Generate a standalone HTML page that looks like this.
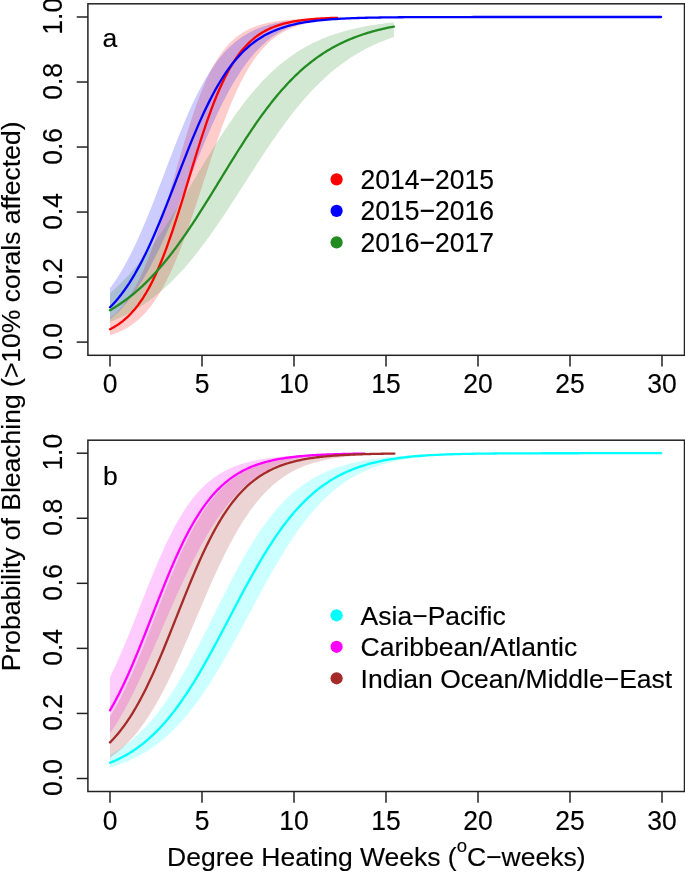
<!DOCTYPE html><html><head><meta charset="utf-8"><style>html,body{margin:0;padding:0;background:#fff}svg{display:block;will-change:transform}text{font-family:"Liberation Sans",sans-serif;fill:#000;stroke:#000;stroke-width:0.15}</style></head><body>
<svg width="685" height="872" viewBox="0 0 685 872">
<rect width="685" height="872" fill="#fff"/>
<path d="M110.00,318.12 L111.14,317.21 L112.27,316.26 L113.41,315.28 L114.54,314.25 L115.68,313.18 L116.82,312.07 L117.95,310.92 L119.09,309.71 L120.23,308.47 L121.36,307.17 L122.50,305.82 L123.63,304.42 L124.77,302.96 L125.91,301.45 L127.04,299.89 L128.18,298.26 L129.32,296.58 L130.45,294.83 L131.59,293.02 L132.72,291.15 L133.86,289.21 L135.00,287.20 L136.13,285.13 L137.27,282.98 L138.41,280.77 L139.54,278.48 L140.68,276.12 L141.81,273.69 L142.95,271.19 L144.09,268.61 L145.22,265.95 L146.36,263.22 L147.49,260.42 L148.63,257.54 L149.77,254.59 L150.90,251.57 L152.04,248.47 L153.18,245.31 L154.31,242.07 L155.45,238.77 L156.58,235.40 L157.72,231.97 L158.86,228.47 L159.99,224.92 L161.13,221.31 L162.27,217.65 L163.40,213.94 L164.54,210.19 L165.67,206.39 L166.81,202.56 L167.95,198.69 L169.08,194.79 L170.22,190.87 L171.35,186.93 L172.49,182.98 L173.63,179.02 L174.76,175.05 L175.90,171.08 L177.04,167.11 L178.17,163.16 L179.31,159.22 L180.44,155.30 L181.58,151.40 L182.72,147.54 L183.85,143.71 L184.99,139.92 L186.13,136.16 L187.26,132.46 L188.40,128.81 L189.53,125.21 L190.67,121.67 L191.81,118.18 L192.94,114.76 L194.08,111.41 L195.21,108.13 L196.35,104.91 L197.49,101.77 L198.62,98.70 L199.76,95.70 L200.90,92.78 L202.03,89.94 L203.17,87.18 L204.30,84.49 L205.44,81.88 L206.58,79.34 L207.71,76.89 L208.85,74.51 L209.99,72.20 L211.12,69.98 L212.26,67.82 L213.39,65.74 L214.53,63.74 L215.67,61.80 L216.80,59.93 L217.94,58.13 L219.08,56.40 L220.21,54.73 L221.35,53.13 L222.48,51.59 L223.62,50.10 L224.76,48.68 L225.89,47.31 L227.03,46.00 L228.16,44.74 L229.30,43.54 L230.44,42.38 L231.57,41.27 L232.71,40.21 L233.85,39.19 L234.98,38.22 L236.12,37.29 L237.25,36.40 L238.39,35.54 L239.53,34.73 L240.66,33.95 L241.80,33.20 L242.94,32.49 L244.07,31.81 L245.21,31.16 L246.34,30.53 L247.48,29.94 L248.62,29.37 L249.75,28.83 L250.89,28.31 L252.03,27.82 L253.16,27.34 L254.30,26.89 L255.43,26.46 L256.57,26.05 L257.71,25.66 L258.84,25.29 L259.98,24.93 L261.11,24.59 L262.25,24.26 L263.39,23.95 L264.52,23.65 L265.66,23.37 L266.80,23.10 L267.93,22.84 L269.07,22.60 L270.20,22.36 L271.34,22.14 L272.48,21.92 L273.61,21.72 L274.75,21.52 L275.89,21.34 L277.02,21.16 L278.16,20.99 L279.29,20.83 L280.43,20.67 L281.57,20.53 L282.70,20.38 L283.84,20.25 L284.97,20.12 L286.11,20.00 L287.25,19.88 L288.38,19.77 L289.52,19.66 L290.66,19.56 L291.79,19.46 L292.93,19.36 L294.06,19.27 L295.20,19.18 L296.34,19.09 L297.47,19.01 L298.61,18.93 L299.75,18.86 L300.88,18.78 L302.02,18.71 L303.15,18.65 L304.29,18.58 L305.43,18.52 L306.56,18.46 L307.70,18.40 L308.84,18.35 L309.97,18.30 L311.11,18.24 L312.24,18.20 L313.38,18.15 L314.52,18.10 L315.65,18.06 L316.79,18.02 L317.92,17.98 L319.06,17.94 L320.20,17.90 L321.33,17.87 L322.47,17.83 L323.61,17.80 L324.74,17.77 L325.88,17.74 L327.01,17.71 L328.15,17.68 L329.29,17.66 L330.42,17.63 L331.56,17.60 L332.70,17.58 L333.83,17.56 L334.97,17.54 L336.10,17.52 L337.24,17.49 L337.24,18.93 L336.10,19.02 L334.97,19.11 L333.83,19.21 L332.70,19.31 L331.56,19.41 L330.42,19.52 L329.29,19.63 L328.15,19.75 L327.01,19.87 L325.88,20.00 L324.74,20.13 L323.61,20.27 L322.47,20.42 L321.33,20.57 L320.20,20.73 L319.06,20.90 L317.92,21.07 L316.79,21.25 L315.65,21.44 L314.52,21.64 L313.38,21.84 L312.24,22.06 L311.11,22.28 L309.97,22.52 L308.84,22.76 L307.70,23.02 L306.56,23.28 L305.43,23.56 L304.29,23.85 L303.15,24.15 L302.02,24.47 L300.88,24.79 L299.75,25.14 L298.61,25.50 L297.47,25.87 L296.34,26.26 L295.20,26.66 L294.06,27.08 L292.93,27.52 L291.79,27.98 L290.66,28.46 L289.52,28.96 L288.38,29.48 L287.25,30.02 L286.11,30.58 L284.97,31.17 L283.84,31.78 L282.70,32.41 L281.57,33.07 L280.43,33.76 L279.29,34.47 L278.16,35.22 L277.02,35.99 L275.89,36.80 L274.75,37.63 L273.61,38.50 L272.48,39.41 L271.34,40.34 L270.20,41.32 L269.07,42.33 L267.93,43.38 L266.80,44.47 L265.66,45.60 L264.52,46.77 L263.39,47.99 L262.25,49.24 L261.11,50.55 L259.98,51.90 L258.84,53.30 L257.71,54.74 L256.57,56.24 L255.43,57.78 L254.30,59.37 L253.16,61.02 L252.03,62.71 L250.89,64.46 L249.75,66.25 L248.62,68.11 L247.48,70.01 L246.34,71.97 L245.21,73.98 L244.07,76.05 L242.94,78.18 L241.80,80.36 L240.66,82.60 L239.53,84.90 L238.39,87.25 L237.25,89.66 L236.12,92.12 L234.98,94.64 L233.85,97.22 L232.71,99.85 L231.57,102.53 L230.44,105.27 L229.30,108.06 L228.16,110.91 L227.03,113.81 L225.89,116.75 L224.76,119.74 L223.62,122.78 L222.48,125.87 L221.35,129.00 L220.21,132.17 L219.08,135.38 L217.94,138.63 L216.80,141.91 L215.67,145.23 L214.53,148.58 L213.39,151.95 L212.26,155.35 L211.12,158.77 L209.99,162.22 L208.85,165.68 L207.71,169.15 L206.58,172.63 L205.44,176.13 L204.30,179.63 L203.17,183.12 L202.03,186.62 L200.90,190.12 L199.76,193.60 L198.62,197.08 L197.49,200.54 L196.35,203.99 L195.21,207.42 L194.08,210.82 L192.94,214.20 L191.81,217.55 L190.67,220.87 L189.53,224.16 L188.40,227.42 L187.26,230.63 L186.13,233.81 L184.99,236.94 L183.85,240.03 L182.72,243.07 L181.58,246.07 L180.44,249.02 L179.31,251.91 L178.17,254.76 L177.04,257.55 L175.90,260.29 L174.76,262.97 L173.63,265.59 L172.49,268.16 L171.35,270.68 L170.22,273.13 L169.08,275.53 L167.95,277.87 L166.81,280.15 L165.67,282.37 L164.54,284.54 L163.40,286.64 L162.27,288.69 L161.13,290.68 L159.99,292.62 L158.86,294.50 L157.72,296.32 L156.58,298.09 L155.45,299.81 L154.31,301.47 L153.18,303.08 L152.04,304.64 L150.90,306.14 L149.77,307.60 L148.63,309.01 L147.49,310.37 L146.36,311.68 L145.22,312.95 L144.09,314.17 L142.95,315.35 L141.81,316.49 L140.68,317.59 L139.54,318.64 L138.41,319.66 L137.27,320.64 L136.13,321.58 L135.00,322.48 L133.86,323.35 L132.72,324.19 L131.59,324.99 L130.45,325.76 L129.32,326.50 L128.18,327.22 L127.04,327.90 L125.91,328.55 L124.77,329.18 L123.63,329.78 L122.50,330.36 L121.36,330.91 L120.23,331.44 L119.09,331.94 L117.95,332.43 L116.82,332.89 L115.68,333.34 L114.54,333.76 L113.41,334.17 L112.27,334.55 L111.14,334.92 L110.00,335.28Z" fill="#FF0000" fill-opacity="0.2" stroke="none"/>
<path d="M110.00,288.30 L112.76,284.50 L115.51,280.48 L118.27,276.22 L121.02,271.73 L123.78,266.99 L126.53,262.02 L129.29,256.80 L132.04,251.34 L134.80,245.65 L137.55,239.73 L140.31,233.59 L143.06,227.25 L145.82,220.71 L148.58,214.01 L151.33,207.14 L154.09,200.15 L156.84,193.05 L159.60,185.86 L162.35,178.63 L165.11,171.36 L167.86,164.11 L170.62,156.88 L173.37,149.72 L176.13,142.65 L178.88,135.70 L181.64,128.90 L184.40,122.26 L187.15,115.81 L189.91,109.57 L192.66,103.55 L195.42,97.76 L198.17,92.22 L200.93,86.94 L203.68,81.91 L206.44,77.15 L209.19,72.65 L211.95,68.40 L214.71,64.41 L217.46,60.67 L220.22,57.17 L222.97,53.90 L225.73,50.86 L228.48,48.04 L231.24,45.42 L233.99,42.99 L236.75,40.75 L239.50,38.68 L242.26,36.78 L245.01,35.03 L247.77,33.42 L250.53,31.94 L253.28,30.59 L256.04,29.35 L258.79,28.22 L261.55,27.19 L264.30,26.24 L267.06,25.38 L269.81,24.60 L272.57,23.88 L275.32,23.23 L278.08,22.64 L280.83,22.11 L283.59,21.62 L286.35,21.18 L289.10,20.79 L291.86,20.43 L294.61,20.10 L297.37,19.80 L300.12,19.54 L302.88,19.29 L305.63,19.07 L308.39,18.88 L311.14,18.70 L313.90,18.53 L316.65,18.39 L319.41,18.25 L322.17,18.13 L324.92,18.03 L327.68,17.93 L330.43,17.84 L333.19,17.76 L335.94,17.68 L338.70,17.62 L341.45,17.56 L344.21,17.51 L346.96,17.46 L349.72,17.41 L352.48,17.37 L355.23,17.34 L357.99,17.31 L360.74,17.28 L363.50,17.25 L366.25,17.23 L369.01,17.20 L371.76,17.18 L374.52,17.17 L377.27,17.15 L380.03,17.14 L382.78,17.12 L385.54,17.11 L388.30,17.10 L391.05,17.09 L393.81,17.08 L396.56,17.07 L399.32,17.07 L402.07,17.06 L404.83,17.05 L407.58,17.05 L410.34,17.04 L413.09,17.04 L415.85,17.04 L418.60,17.03 L421.36,17.03 L424.12,17.03 L426.87,17.02 L429.63,17.02 L432.38,17.02 L435.14,17.02 L437.89,17.02 L440.65,17.01 L443.40,17.01 L446.16,17.01 L448.91,17.01 L451.67,17.01 L454.43,17.01 L457.18,17.01 L459.94,17.01 L462.69,17.01 L465.45,17.01 L468.20,17.01 L470.96,17.00 L473.71,17.00 L476.47,17.00 L479.22,17.00 L481.98,17.00 L484.73,17.00 L487.49,17.00 L490.25,17.00 L493.00,17.00 L495.76,17.00 L498.51,17.00 L501.27,17.00 L504.02,17.00 L506.78,17.00 L509.53,17.00 L512.29,17.00 L515.04,17.00 L517.80,17.00 L520.55,17.00 L523.31,17.00 L526.07,17.00 L528.82,17.00 L531.58,17.00 L534.33,17.00 L537.09,17.00 L539.84,17.00 L542.60,17.00 L545.35,17.00 L548.11,17.00 L550.86,17.00 L553.62,17.00 L556.37,17.00 L559.13,17.00 L561.89,17.00 L564.64,17.00 L567.40,17.00 L570.15,17.00 L572.91,17.00 L575.66,17.00 L578.42,17.00 L581.17,17.00 L583.93,17.00 L586.68,17.00 L589.44,17.00 L592.19,17.00 L594.95,17.00 L597.71,17.00 L600.46,17.00 L603.22,17.00 L605.97,17.00 L608.73,17.00 L611.48,17.00 L614.24,17.00 L616.99,17.00 L619.75,17.00 L622.50,17.00 L625.26,17.00 L628.02,17.00 L630.77,17.00 L633.53,17.00 L636.28,17.00 L639.04,17.00 L641.79,17.00 L644.55,17.00 L647.30,17.00 L650.06,17.00 L652.81,17.00 L655.57,17.00 L658.32,17.00 L661.08,17.00 L661.08,17.00 L658.32,17.00 L655.57,17.00 L652.81,17.00 L650.06,17.00 L647.30,17.00 L644.55,17.00 L641.79,17.00 L639.04,17.00 L636.28,17.00 L633.53,17.00 L630.77,17.00 L628.02,17.00 L625.26,17.00 L622.50,17.00 L619.75,17.00 L616.99,17.00 L614.24,17.00 L611.48,17.00 L608.73,17.00 L605.97,17.00 L603.22,17.00 L600.46,17.00 L597.71,17.00 L594.95,17.00 L592.19,17.00 L589.44,17.00 L586.68,17.00 L583.93,17.00 L581.17,17.00 L578.42,17.00 L575.66,17.00 L572.91,17.00 L570.15,17.00 L567.40,17.00 L564.64,17.00 L561.89,17.00 L559.13,17.00 L556.37,17.00 L553.62,17.00 L550.86,17.00 L548.11,17.00 L545.35,17.00 L542.60,17.00 L539.84,17.00 L537.09,17.00 L534.33,17.00 L531.58,17.00 L528.82,17.00 L526.07,17.00 L523.31,17.00 L520.55,17.00 L517.80,17.00 L515.04,17.00 L512.29,17.00 L509.53,17.00 L506.78,17.00 L504.02,17.00 L501.27,17.00 L498.51,17.00 L495.76,17.00 L493.00,17.00 L490.25,17.00 L487.49,17.00 L484.73,17.00 L481.98,17.00 L479.22,17.00 L476.47,17.00 L473.71,17.01 L470.96,17.01 L468.20,17.01 L465.45,17.01 L462.69,17.01 L459.94,17.01 L457.18,17.01 L454.43,17.01 L451.67,17.01 L448.91,17.01 L446.16,17.02 L443.40,17.02 L440.65,17.02 L437.89,17.02 L435.14,17.03 L432.38,17.03 L429.63,17.03 L426.87,17.04 L424.12,17.04 L421.36,17.05 L418.60,17.05 L415.85,17.06 L413.09,17.06 L410.34,17.07 L407.58,17.08 L404.83,17.09 L402.07,17.10 L399.32,17.11 L396.56,17.13 L393.81,17.14 L391.05,17.16 L388.30,17.18 L385.54,17.20 L382.78,17.22 L380.03,17.25 L377.27,17.28 L374.52,17.31 L371.76,17.35 L369.01,17.39 L366.25,17.44 L363.50,17.50 L360.74,17.56 L357.99,17.62 L355.23,17.70 L352.48,17.78 L349.72,17.88 L346.96,17.98 L344.21,18.10 L341.45,18.23 L338.70,18.38 L335.94,18.55 L333.19,18.74 L330.43,18.95 L327.68,19.18 L324.92,19.44 L322.17,19.74 L319.41,20.06 L316.65,20.43 L313.90,20.84 L311.14,21.30 L308.39,21.81 L305.63,22.39 L302.88,23.03 L300.12,23.74 L297.37,24.54 L294.61,25.43 L291.86,26.42 L289.10,27.53 L286.35,28.75 L283.59,30.10 L280.83,31.57 L278.08,33.17 L275.32,34.90 L272.57,36.79 L269.81,38.82 L267.06,41.02 L264.30,43.39 L261.55,45.93 L258.79,48.65 L256.04,51.56 L253.28,54.66 L250.53,57.96 L247.77,61.47 L245.01,65.18 L242.26,69.09 L239.50,73.22 L236.75,77.56 L233.99,82.10 L231.24,86.86 L228.48,91.81 L225.73,96.97 L222.97,102.32 L220.22,107.86 L217.46,113.57 L214.71,119.45 L211.95,125.48 L209.19,131.66 L206.44,137.97 L203.68,144.39 L200.93,150.91 L198.17,157.51 L195.42,164.18 L192.66,170.88 L189.91,177.62 L187.15,184.36 L184.40,191.09 L181.64,197.78 L178.88,204.43 L176.13,211.01 L173.37,217.50 L170.62,223.90 L167.86,230.17 L165.11,236.31 L162.35,242.30 L159.60,248.13 L156.84,253.79 L154.09,259.26 L151.33,264.55 L148.58,269.64 L145.82,274.53 L143.06,279.22 L140.31,283.69 L137.55,287.95 L134.80,292.00 L132.04,295.84 L129.29,299.47 L126.53,302.89 L123.78,306.11 L121.02,309.13 L118.27,311.96 L115.51,314.60 L112.76,317.06 L110.00,319.35Z" fill="#0000FF" fill-opacity="0.2" stroke="none"/>
<path d="M110.00,293.14 L111.42,291.92 L112.84,290.67 L114.26,289.39 L115.68,288.09 L117.10,286.77 L118.52,285.41 L119.94,284.04 L121.36,282.63 L122.78,281.20 L124.20,279.75 L125.62,278.26 L127.03,276.75 L128.45,275.22 L129.87,273.66 L131.29,272.07 L132.71,270.45 L134.13,268.81 L135.55,267.14 L136.97,265.45 L138.39,263.72 L139.81,261.98 L141.23,260.20 L142.65,258.40 L144.07,256.58 L145.49,254.73 L146.91,252.85 L148.33,250.95 L149.75,249.03 L151.17,247.08 L152.59,245.10 L154.01,243.11 L155.43,241.09 L156.85,239.05 L158.27,236.98 L159.68,234.90 L161.10,232.79 L162.52,230.67 L163.94,228.52 L165.36,226.36 L166.78,224.17 L168.20,221.97 L169.62,219.76 L171.04,217.52 L172.46,215.27 L173.88,213.01 L175.30,210.74 L176.72,208.45 L178.14,206.15 L179.56,203.83 L180.98,201.51 L182.40,199.18 L183.82,196.84 L185.24,194.49 L186.66,192.14 L188.08,189.78 L189.50,187.42 L190.91,185.05 L192.33,182.68 L193.75,180.31 L195.17,177.94 L196.59,175.57 L198.01,173.21 L199.43,170.84 L200.85,168.48 L202.27,166.12 L203.69,163.77 L205.11,161.43 L206.53,159.09 L207.95,156.76 L209.37,154.44 L210.79,152.14 L212.21,149.84 L213.63,147.55 L215.05,145.28 L216.47,143.02 L217.89,140.78 L219.31,138.55 L220.73,136.34 L222.15,134.15 L223.56,131.97 L224.98,129.82 L226.40,127.68 L227.82,125.56 L229.24,123.46 L230.66,121.38 L232.08,119.33 L233.50,117.29 L234.92,115.28 L236.34,113.29 L237.76,111.33 L239.18,109.39 L240.60,107.47 L242.02,105.58 L243.44,103.71 L244.86,101.87 L246.28,100.06 L247.70,98.26 L249.12,96.50 L250.54,94.76 L251.96,93.05 L253.38,91.36 L254.80,89.70 L256.21,88.07 L257.63,86.47 L259.05,84.89 L260.47,83.33 L261.89,81.81 L263.31,80.31 L264.73,78.83 L266.15,77.39 L267.57,75.96 L268.99,74.57 L270.41,73.20 L271.83,71.86 L273.25,70.54 L274.67,69.25 L276.09,67.98 L277.51,66.74 L278.93,65.53 L280.35,64.34 L281.77,63.17 L283.19,62.02 L284.61,60.91 L286.03,59.81 L287.45,58.74 L288.86,57.69 L290.28,56.66 L291.70,55.66 L293.12,54.67 L294.54,53.71 L295.96,52.77 L297.38,51.86 L298.80,50.96 L300.22,50.08 L301.64,49.23 L303.06,48.39 L304.48,47.57 L305.90,46.77 L307.32,45.99 L308.74,45.23 L310.16,44.49 L311.58,43.77 L313.00,43.06 L314.42,42.37 L315.84,41.69 L317.26,41.04 L318.68,40.40 L320.09,39.77 L321.51,39.16 L322.93,38.57 L324.35,37.99 L325.77,37.42 L327.19,36.87 L328.61,36.33 L330.03,35.81 L331.45,35.30 L332.87,34.80 L334.29,34.32 L335.71,33.85 L337.13,33.39 L338.55,32.94 L339.97,32.50 L341.39,32.08 L342.81,31.66 L344.23,31.26 L345.65,30.87 L347.07,30.49 L348.49,30.11 L349.91,29.75 L351.33,29.40 L352.74,29.06 L354.16,28.72 L355.58,28.40 L357.00,28.08 L358.42,27.77 L359.84,27.47 L361.26,27.18 L362.68,26.90 L364.10,26.62 L365.52,26.35 L366.94,26.09 L368.36,25.84 L369.78,25.59 L371.20,25.35 L372.62,25.12 L374.04,24.89 L375.46,24.67 L376.88,24.45 L378.30,24.24 L379.72,24.04 L381.14,23.84 L382.56,23.65 L383.98,23.46 L385.39,23.28 L386.81,23.10 L388.23,22.93 L389.65,22.76 L391.07,22.60 L392.49,22.44 L393.91,22.29 L393.91,37.01 L392.49,37.49 L391.07,37.99 L389.65,38.49 L388.23,39.01 L386.81,39.54 L385.39,40.08 L383.98,40.63 L382.56,41.20 L381.14,41.78 L379.72,42.37 L378.30,42.97 L376.88,43.59 L375.46,44.22 L374.04,44.87 L372.62,45.53 L371.20,46.21 L369.78,46.90 L368.36,47.60 L366.94,48.32 L365.52,49.06 L364.10,49.81 L362.68,50.58 L361.26,51.37 L359.84,52.17 L358.42,52.99 L357.00,53.82 L355.58,54.68 L354.16,55.55 L352.74,56.44 L351.33,57.35 L349.91,58.27 L348.49,59.22 L347.07,60.18 L345.65,61.16 L344.23,62.17 L342.81,63.19 L341.39,64.23 L339.97,65.29 L338.55,66.38 L337.13,67.48 L335.71,68.60 L334.29,69.75 L332.87,70.91 L331.45,72.10 L330.03,73.31 L328.61,74.54 L327.19,75.80 L325.77,77.07 L324.35,78.37 L322.93,79.69 L321.51,81.03 L320.09,82.39 L318.68,83.78 L317.26,85.19 L315.84,86.62 L314.42,88.08 L313.00,89.56 L311.58,91.06 L310.16,92.58 L308.74,94.13 L307.32,95.70 L305.90,97.29 L304.48,98.90 L303.06,100.54 L301.64,102.20 L300.22,103.88 L298.80,105.58 L297.38,107.31 L295.96,109.06 L294.54,110.82 L293.12,112.61 L291.70,114.42 L290.28,116.26 L288.86,118.11 L287.45,119.98 L286.03,121.87 L284.61,123.78 L283.19,125.71 L281.77,127.66 L280.35,129.63 L278.93,131.61 L277.51,133.61 L276.09,135.63 L274.67,137.66 L273.25,139.71 L271.83,141.78 L270.41,143.86 L268.99,145.95 L267.57,148.05 L266.15,150.17 L264.73,152.30 L263.31,154.44 L261.89,156.59 L260.47,158.75 L259.05,160.92 L257.63,163.10 L256.21,165.29 L254.80,167.48 L253.38,169.67 L251.96,171.88 L250.54,174.08 L249.12,176.30 L247.70,178.51 L246.28,180.72 L244.86,182.94 L243.44,185.16 L242.02,187.37 L240.60,189.59 L239.18,191.80 L237.76,194.01 L236.34,196.21 L234.92,198.41 L233.50,200.61 L232.08,202.79 L230.66,204.97 L229.24,207.15 L227.82,209.31 L226.40,211.47 L224.98,213.61 L223.56,215.75 L222.15,217.87 L220.73,219.98 L219.31,222.07 L217.89,224.16 L216.47,226.23 L215.05,228.28 L213.63,230.32 L212.21,232.34 L210.79,234.34 L209.37,236.33 L207.95,238.30 L206.53,240.25 L205.11,242.18 L203.69,244.10 L202.27,245.99 L200.85,247.86 L199.43,249.72 L198.01,251.55 L196.59,253.36 L195.17,255.15 L193.75,256.91 L192.33,258.66 L190.91,260.38 L189.50,262.08 L188.08,263.75 L186.66,265.41 L185.24,267.04 L183.82,268.64 L182.40,270.23 L180.98,271.79 L179.56,273.32 L178.14,274.83 L176.72,276.32 L175.30,277.79 L173.88,279.23 L172.46,280.64 L171.04,282.04 L169.62,283.41 L168.20,284.75 L166.78,286.07 L165.36,287.37 L163.94,288.65 L162.52,289.90 L161.10,291.13 L159.68,292.34 L158.27,293.52 L156.85,294.68 L155.43,295.82 L154.01,296.94 L152.59,298.03 L151.17,299.10 L149.75,300.15 L148.33,301.18 L146.91,302.19 L145.49,303.18 L144.07,304.15 L142.65,305.10 L141.23,306.02 L139.81,306.93 L138.39,307.82 L136.97,308.68 L135.55,309.53 L134.13,310.36 L132.71,311.18 L131.29,311.97 L129.87,312.75 L128.45,313.50 L127.03,314.25 L125.62,314.97 L124.20,315.68 L122.78,316.37 L121.36,317.04 L119.94,317.70 L118.52,318.34 L117.10,318.97 L115.68,319.59 L114.26,320.18 L112.84,320.77 L111.42,321.34 L110.00,321.89Z" fill="#228B22" fill-opacity="0.2" stroke="none"/>
<path d="M110.00,329.24 L111.14,328.66 L112.27,328.06 L113.41,327.42 L114.54,326.76 L115.68,326.07 L116.82,325.36 L117.95,324.61 L119.09,323.83 L120.23,323.02 L121.36,322.17 L122.50,321.29 L123.63,320.37 L124.77,319.42 L125.91,318.43 L127.04,317.39 L128.18,316.32 L129.32,315.20 L130.45,314.04 L131.59,312.84 L132.72,311.59 L133.86,310.29 L135.00,308.94 L136.13,307.54 L137.27,306.09 L138.41,304.59 L139.54,303.03 L140.68,301.41 L141.81,299.74 L142.95,298.02 L144.09,296.23 L145.22,294.38 L146.36,292.47 L147.49,290.50 L148.63,288.47 L149.77,286.37 L150.90,284.21 L152.04,281.98 L153.18,279.69 L154.31,277.33 L155.45,274.90 L156.58,272.41 L157.72,269.85 L158.86,267.22 L159.99,264.53 L161.13,261.78 L162.27,258.95 L163.40,256.07 L164.54,253.12 L165.67,250.11 L166.81,247.03 L167.95,243.90 L169.08,240.71 L170.22,237.46 L171.35,234.17 L172.49,230.81 L173.63,227.41 L174.76,223.97 L175.90,220.48 L177.04,216.95 L178.17,213.38 L179.31,209.77 L180.44,206.14 L181.58,202.48 L182.72,198.79 L183.85,195.09 L184.99,191.36 L186.13,187.63 L187.26,183.88 L188.40,180.14 L189.53,176.39 L190.67,172.64 L191.81,168.91 L192.94,165.18 L194.08,161.47 L195.21,157.77 L196.35,154.10 L197.49,150.46 L198.62,146.85 L199.76,143.27 L200.90,139.72 L202.03,136.22 L203.17,132.76 L204.30,129.35 L205.44,125.98 L206.58,122.66 L207.71,119.40 L208.85,116.19 L209.99,113.04 L211.12,109.95 L212.26,106.92 L213.39,103.95 L214.53,101.04 L215.67,98.20 L216.80,95.42 L217.94,92.71 L219.08,90.07 L220.21,87.49 L221.35,84.97 L222.48,82.53 L223.62,80.15 L224.76,77.83 L225.89,75.58 L227.03,73.40 L228.16,71.28 L229.30,69.23 L230.44,67.24 L231.57,65.31 L232.71,63.44 L233.85,61.64 L234.98,59.89 L236.12,58.20 L237.25,56.57 L238.39,55.00 L239.53,53.47 L240.66,52.01 L241.80,50.59 L242.94,49.23 L244.07,47.91 L245.21,46.65 L246.34,45.43 L247.48,44.25 L248.62,43.12 L249.75,42.04 L250.89,40.99 L252.03,39.99 L253.16,39.02 L254.30,38.09 L255.43,37.20 L256.57,36.34 L257.71,35.52 L258.84,34.73 L259.98,33.97 L261.11,33.25 L262.25,32.55 L263.39,31.88 L264.52,31.24 L265.66,30.62 L266.80,30.04 L267.93,29.47 L269.07,28.93 L270.20,28.41 L271.34,27.91 L272.48,27.44 L273.61,26.98 L274.75,26.54 L275.89,26.13 L277.02,25.73 L278.16,25.34 L279.29,24.98 L280.43,24.62 L281.57,24.29 L282.70,23.97 L283.84,23.66 L284.97,23.36 L286.11,23.08 L287.25,22.81 L288.38,22.56 L289.52,22.31 L290.66,22.07 L291.79,21.85 L292.93,21.63 L294.06,21.43 L295.20,21.23 L296.34,21.04 L297.47,20.86 L298.61,20.69 L299.75,20.53 L300.88,20.37 L302.02,20.22 L303.15,20.07 L304.29,19.94 L305.43,19.81 L306.56,19.68 L307.70,19.56 L308.84,19.45 L309.97,19.34 L311.11,19.23 L312.24,19.13 L313.38,19.04 L314.52,18.94 L315.65,18.86 L316.79,18.77 L317.92,18.69 L319.06,18.62 L320.20,18.55 L321.33,18.48 L322.47,18.41 L323.61,18.35 L324.74,18.29 L325.88,18.23 L327.01,18.17 L328.15,18.12 L329.29,18.07 L330.42,18.02 L331.56,17.98 L332.70,17.93 L333.83,17.89 L334.97,17.85 L336.10,17.81 L337.24,17.78" fill="none" stroke="#FF0000" stroke-width="2.3" stroke-linecap="round" stroke-linejoin="round"/>
<path d="M110.00,307.26 L112.76,304.43 L115.51,301.40 L118.27,298.17 L121.02,294.72 L123.78,291.05 L126.53,287.15 L129.29,283.02 L132.04,278.65 L134.80,274.04 L137.55,269.19 L140.31,264.10 L143.06,258.77 L145.82,253.21 L148.58,247.42 L151.33,241.41 L154.09,235.20 L156.84,228.80 L159.60,222.23 L162.35,215.51 L165.11,208.65 L167.86,201.68 L170.62,194.63 L173.37,187.53 L176.13,180.39 L178.88,173.25 L181.64,166.13 L184.40,159.07 L187.15,152.08 L189.91,145.19 L192.66,138.43 L195.42,131.83 L198.17,125.38 L200.93,119.13 L203.68,113.07 L206.44,107.23 L209.19,101.62 L211.95,96.23 L214.71,91.08 L217.46,86.18 L220.22,81.51 L222.97,77.08 L225.73,72.90 L228.48,68.95 L231.24,65.22 L233.99,61.72 L236.75,58.44 L239.50,55.36 L242.26,52.49 L245.01,49.80 L247.77,47.30 L250.53,44.97 L253.28,42.80 L256.04,40.79 L258.79,38.92 L261.55,37.19 L264.30,35.59 L267.06,34.11 L269.81,32.74 L272.57,31.47 L275.32,30.31 L278.08,29.23 L280.83,28.23 L283.59,27.32 L286.35,26.48 L289.10,25.70 L291.86,24.99 L294.61,24.33 L297.37,23.72 L300.12,23.17 L302.88,22.66 L305.63,22.19 L308.39,21.76 L311.14,21.37 L313.90,21.00 L316.65,20.67 L319.41,20.36 L322.17,20.08 L324.92,19.83 L327.68,19.59 L330.43,19.37 L333.19,19.18 L335.94,18.99 L338.70,18.83 L341.45,18.67 L344.21,18.53 L346.96,18.41 L349.72,18.29 L352.48,18.18 L355.23,18.08 L357.99,17.99 L360.74,17.91 L363.50,17.83 L366.25,17.76 L369.01,17.70 L371.76,17.64 L374.52,17.58 L377.27,17.54 L380.03,17.49 L382.78,17.45 L385.54,17.41 L388.30,17.38 L391.05,17.35 L393.81,17.32 L396.56,17.29 L399.32,17.27 L402.07,17.24 L404.83,17.22 L407.58,17.20 L410.34,17.19 L413.09,17.17 L415.85,17.16 L418.60,17.14 L421.36,17.13 L424.12,17.12 L426.87,17.11 L429.63,17.10 L432.38,17.09 L435.14,17.08 L437.89,17.08 L440.65,17.07 L443.40,17.07 L446.16,17.06 L448.91,17.05 L451.67,17.05 L454.43,17.05 L457.18,17.04 L459.94,17.04 L462.69,17.04 L465.45,17.03 L468.20,17.03 L470.96,17.03 L473.71,17.02 L476.47,17.02 L479.22,17.02 L481.98,17.02 L484.73,17.02 L487.49,17.02 L490.25,17.01 L493.00,17.01 L495.76,17.01 L498.51,17.01 L501.27,17.01 L504.02,17.01 L506.78,17.01 L509.53,17.01 L512.29,17.01 L515.04,17.01 L517.80,17.01 L520.55,17.01 L523.31,17.01 L526.07,17.00 L528.82,17.00 L531.58,17.00 L534.33,17.00 L537.09,17.00 L539.84,17.00 L542.60,17.00 L545.35,17.00 L548.11,17.00 L550.86,17.00 L553.62,17.00 L556.37,17.00 L559.13,17.00 L561.89,17.00 L564.64,17.00 L567.40,17.00 L570.15,17.00 L572.91,17.00 L575.66,17.00 L578.42,17.00 L581.17,17.00 L583.93,17.00 L586.68,17.00 L589.44,17.00 L592.19,17.00 L594.95,17.00 L597.71,17.00 L600.46,17.00 L603.22,17.00 L605.97,17.00 L608.73,17.00 L611.48,17.00 L614.24,17.00 L616.99,17.00 L619.75,17.00 L622.50,17.00 L625.26,17.00 L628.02,17.00 L630.77,17.00 L633.53,17.00 L636.28,17.00 L639.04,17.00 L641.79,17.00 L644.55,17.00 L647.30,17.00 L650.06,17.00 L652.81,17.00 L655.57,17.00 L658.32,17.00 L661.08,17.00" fill="none" stroke="#0000FF" stroke-width="2.3" stroke-linecap="round" stroke-linejoin="round"/>
<path d="M110.00,310.25 L111.42,309.42 L112.84,308.57 L114.26,307.70 L115.68,306.81 L117.10,305.90 L118.52,304.97 L119.94,304.02 L121.36,303.05 L122.78,302.06 L124.20,301.05 L125.62,300.01 L127.03,298.95 L128.45,297.87 L129.87,296.77 L131.29,295.64 L132.71,294.49 L134.13,293.32 L135.55,292.12 L136.97,290.90 L138.39,289.66 L139.81,288.39 L141.23,287.09 L142.65,285.78 L144.07,284.43 L145.49,283.06 L146.91,281.67 L148.33,280.25 L149.75,278.81 L151.17,277.34 L152.59,275.84 L154.01,274.32 L155.43,272.78 L156.85,271.21 L158.27,269.61 L159.68,267.99 L161.10,266.34 L162.52,264.67 L163.94,262.97 L165.36,261.25 L166.78,259.50 L168.20,257.72 L169.62,255.93 L171.04,254.10 L172.46,252.26 L173.88,250.39 L175.30,248.50 L176.72,246.58 L178.14,244.64 L179.56,242.68 L180.98,240.70 L182.40,238.69 L183.82,236.67 L185.24,234.62 L186.66,232.55 L188.08,230.47 L189.50,228.37 L190.91,226.24 L192.33,224.10 L193.75,221.95 L195.17,219.78 L196.59,217.59 L198.01,215.38 L199.43,213.17 L200.85,210.94 L202.27,208.70 L203.69,206.44 L205.11,204.18 L206.53,201.90 L207.95,199.62 L209.37,197.33 L210.79,195.03 L212.21,192.73 L213.63,190.42 L215.05,188.10 L216.47,185.79 L217.89,183.47 L219.31,181.14 L220.73,178.82 L222.15,176.50 L223.56,174.18 L224.98,171.86 L226.40,169.54 L227.82,167.23 L229.24,164.93 L230.66,162.63 L232.08,160.33 L233.50,158.05 L234.92,155.77 L236.34,153.50 L237.76,151.24 L239.18,149.00 L240.60,146.76 L242.02,144.54 L243.44,142.33 L244.86,140.14 L246.28,137.96 L247.70,135.80 L249.12,133.65 L250.54,131.52 L251.96,129.41 L253.38,127.32 L254.80,125.25 L256.21,123.19 L257.63,121.16 L259.05,119.15 L260.47,117.16 L261.89,115.19 L263.31,113.24 L264.73,111.32 L266.15,109.41 L267.57,107.54 L268.99,105.68 L270.41,103.85 L271.83,102.04 L273.25,100.26 L274.67,98.50 L276.09,96.77 L277.51,95.06 L278.93,93.38 L280.35,91.72 L281.77,90.09 L283.19,88.49 L284.61,86.90 L286.03,85.35 L287.45,83.82 L288.86,82.32 L290.28,80.84 L291.70,79.38 L293.12,77.96 L294.54,76.55 L295.96,75.18 L297.38,73.82 L298.80,72.50 L300.22,71.19 L301.64,69.91 L303.06,68.66 L304.48,67.43 L305.90,66.23 L307.32,65.04 L308.74,63.89 L310.16,62.75 L311.58,61.64 L313.00,60.55 L314.42,59.48 L315.84,58.44 L317.26,57.42 L318.68,56.42 L320.09,55.44 L321.51,54.48 L322.93,53.54 L324.35,52.62 L325.77,51.73 L327.19,50.85 L328.61,49.99 L330.03,49.16 L331.45,48.34 L332.87,47.54 L334.29,46.76 L335.71,45.99 L337.13,45.25 L338.55,44.52 L339.97,43.81 L341.39,43.11 L342.81,42.44 L344.23,41.77 L345.65,41.13 L347.07,40.50 L348.49,39.88 L349.91,39.28 L351.33,38.70 L352.74,38.12 L354.16,37.57 L355.58,37.02 L357.00,36.49 L358.42,35.98 L359.84,35.47 L361.26,34.98 L362.68,34.50 L364.10,34.03 L365.52,33.58 L366.94,33.13 L368.36,32.70 L369.78,32.28 L371.20,31.87 L372.62,31.47 L374.04,31.08 L375.46,30.70 L376.88,30.33 L378.30,29.97 L379.72,29.62 L381.14,29.27 L382.56,28.94 L383.98,28.62 L385.39,28.30 L386.81,27.99 L388.23,27.69 L389.65,27.40 L391.07,27.12 L392.49,26.84 L393.91,26.57" fill="none" stroke="#228B22" stroke-width="2.3" stroke-linecap="round" stroke-linejoin="round"/>
<rect x="87.90" y="3.80" width="596.60" height="351.50" fill="none" stroke="#222222" stroke-width="1.5"/>
<line x1="110.00" y1="355.30" x2="110.00" y2="366.50" stroke="#222222" stroke-width="1.5"/>
<text transform="translate(110.00,393.30) scale(1,1.045)" font-size="26.5" text-anchor="middle">0</text>
<line x1="202.00" y1="355.30" x2="202.00" y2="366.50" stroke="#222222" stroke-width="1.5"/>
<text transform="translate(202.00,393.30) scale(1,1.045)" font-size="26.5" text-anchor="middle">5</text>
<line x1="294.00" y1="355.30" x2="294.00" y2="366.50" stroke="#222222" stroke-width="1.5"/>
<text transform="translate(294.00,393.30) scale(1,1.045)" font-size="26.5" text-anchor="middle">10</text>
<line x1="386.00" y1="355.30" x2="386.00" y2="366.50" stroke="#222222" stroke-width="1.5"/>
<text transform="translate(386.00,393.30) scale(1,1.045)" font-size="26.5" text-anchor="middle">15</text>
<line x1="478.00" y1="355.30" x2="478.00" y2="366.50" stroke="#222222" stroke-width="1.5"/>
<text transform="translate(478.00,393.30) scale(1,1.045)" font-size="26.5" text-anchor="middle">20</text>
<line x1="570.00" y1="355.30" x2="570.00" y2="366.50" stroke="#222222" stroke-width="1.5"/>
<text transform="translate(570.00,393.30) scale(1,1.045)" font-size="26.5" text-anchor="middle">25</text>
<line x1="662.00" y1="355.30" x2="662.00" y2="366.50" stroke="#222222" stroke-width="1.5"/>
<text transform="translate(662.00,393.30) scale(1,1.045)" font-size="26.5" text-anchor="middle">30</text>
<line x1="76.70" y1="342.10" x2="87.90" y2="342.10" stroke="#222222" stroke-width="1.5"/>
<text transform="translate(62.20,341.40) rotate(-90) scale(1,1.045)" font-size="26.5" text-anchor="middle">0.0</text>
<line x1="76.70" y1="277.08" x2="87.90" y2="277.08" stroke="#222222" stroke-width="1.5"/>
<text transform="translate(62.20,276.38) rotate(-90) scale(1,1.045)" font-size="26.5" text-anchor="middle">0.2</text>
<line x1="76.70" y1="212.06" x2="87.90" y2="212.06" stroke="#222222" stroke-width="1.5"/>
<text transform="translate(62.20,211.36) rotate(-90) scale(1,1.045)" font-size="26.5" text-anchor="middle">0.4</text>
<line x1="76.70" y1="147.04" x2="87.90" y2="147.04" stroke="#222222" stroke-width="1.5"/>
<text transform="translate(62.20,146.34) rotate(-90) scale(1,1.045)" font-size="26.5" text-anchor="middle">0.6</text>
<line x1="76.70" y1="82.02" x2="87.90" y2="82.02" stroke="#222222" stroke-width="1.5"/>
<text transform="translate(62.20,81.32) rotate(-90) scale(1,1.045)" font-size="26.5" text-anchor="middle">0.8</text>
<line x1="76.70" y1="17.00" x2="87.90" y2="17.00" stroke="#222222" stroke-width="1.5"/>
<text transform="translate(62.20,16.30) rotate(-90) scale(1,1.045)" font-size="26.5" text-anchor="middle">1.0</text>
<text x="102.60" y="46.70" font-size="26.5">a</text>
<circle cx="336.60" cy="179.40" r="6.1" fill="#FF0000"/>
<text transform="translate(360.60,188.90) scale(1,1.045)" font-size="26.5">2014−2015</text>
<circle cx="336.60" cy="210.90" r="6.1" fill="#0000FF"/>
<text transform="translate(360.60,220.40) scale(1,1.045)" font-size="26.5">2015−2016</text>
<circle cx="336.60" cy="242.40" r="6.1" fill="#228B22"/>
<text transform="translate(360.60,251.90) scale(1,1.045)" font-size="26.5">2016−2017</text>
<path d="M110.00,754.61 L112.76,753.09 L115.51,751.48 L118.27,749.78 L121.02,747.98 L123.78,746.08 L126.53,744.07 L129.29,741.95 L132.04,739.72 L134.80,737.37 L137.55,734.90 L140.31,732.30 L143.06,729.56 L145.82,726.70 L148.58,723.70 L151.33,720.56 L154.09,717.28 L156.84,713.86 L159.60,710.29 L162.35,706.58 L165.11,702.72 L167.86,698.72 L170.62,694.57 L173.37,690.29 L176.13,685.87 L178.88,681.31 L181.64,676.63 L184.40,671.82 L187.15,666.90 L189.91,661.86 L192.66,656.73 L195.42,651.51 L198.17,646.21 L200.93,640.83 L203.68,635.40 L206.44,629.92 L209.19,624.40 L211.95,618.86 L214.71,613.32 L217.46,607.77 L220.22,602.25 L222.97,596.75 L225.73,591.29 L228.48,585.89 L231.24,580.55 L233.99,575.29 L236.75,570.12 L239.50,565.04 L242.26,560.07 L245.01,555.22 L247.77,550.48 L250.53,545.87 L253.28,541.39 L256.04,537.05 L258.79,532.86 L261.55,528.80 L264.30,524.89 L267.06,521.13 L269.81,517.51 L272.57,514.04 L275.32,510.71 L278.08,507.53 L280.83,504.49 L283.59,501.59 L286.35,498.82 L289.10,496.19 L291.86,493.69 L294.61,491.31 L297.37,489.06 L300.12,486.92 L302.88,484.89 L305.63,482.98 L308.39,481.17 L311.14,479.45 L313.90,477.84 L316.65,476.32 L319.41,474.88 L322.17,473.53 L324.92,472.25 L327.68,471.05 L330.43,469.92 L333.19,468.86 L335.94,467.87 L338.70,466.93 L341.45,466.05 L344.21,465.23 L346.96,464.46 L349.72,463.73 L352.48,463.05 L355.23,462.41 L357.99,461.82 L360.74,461.26 L363.50,460.73 L366.25,460.24 L369.01,459.78 L371.76,459.35 L374.52,458.95 L377.27,458.57 L380.03,458.22 L382.78,457.89 L385.54,457.58 L388.30,457.30 L391.05,457.03 L393.81,456.77 L396.56,456.54 L399.32,456.32 L402.07,456.11 L404.83,455.92 L407.58,455.74 L410.34,455.57 L413.09,455.42 L415.85,455.27 L418.60,455.13 L421.36,455.01 L424.12,454.89 L426.87,454.78 L429.63,454.67 L432.38,454.57 L435.14,454.48 L437.89,454.40 L440.65,454.32 L443.40,454.24 L446.16,454.17 L448.91,454.11 L451.67,454.05 L454.43,453.99 L457.18,453.94 L459.94,453.89 L462.69,453.85 L465.45,453.80 L468.20,453.76 L470.96,453.73 L473.71,453.69 L476.47,453.66 L479.22,453.63 L481.98,453.60 L484.73,453.57 L487.49,453.55 L490.25,453.52 L493.00,453.50 L495.76,453.48 L498.51,453.46 L501.27,453.45 L504.02,453.43 L506.78,453.42 L509.53,453.40 L512.29,453.39 L515.04,453.37 L517.80,453.36 L520.55,453.35 L523.31,453.34 L526.07,453.33 L528.82,453.32 L531.58,453.32 L534.33,453.31 L537.09,453.30 L539.84,453.29 L542.60,453.29 L545.35,453.28 L548.11,453.28 L550.86,453.27 L553.62,453.27 L556.37,453.26 L559.13,453.26 L561.89,453.25 L564.64,453.25 L567.40,453.25 L570.15,453.24 L572.91,453.24 L575.66,453.24 L578.42,453.24 L581.17,453.23 L583.93,453.23 L586.68,453.23 L589.44,453.23 L592.19,453.23 L594.95,453.22 L597.71,453.22 L600.46,453.22 L603.22,453.22 L605.97,453.22 L608.73,453.22 L611.48,453.22 L614.24,453.21 L616.99,453.21 L619.75,453.21 L622.50,453.21 L625.26,453.21 L628.02,453.21 L630.77,453.21 L633.53,453.21 L636.28,453.21 L639.04,453.21 L641.79,453.21 L644.55,453.21 L647.30,453.21 L650.06,453.21 L652.81,453.21 L655.57,453.21 L658.32,453.20 L661.08,453.20 L661.08,453.20 L658.32,453.20 L655.57,453.20 L652.81,453.20 L650.06,453.20 L647.30,453.20 L644.55,453.21 L641.79,453.21 L639.04,453.21 L636.28,453.21 L633.53,453.21 L630.77,453.21 L628.02,453.21 L625.26,453.21 L622.50,453.21 L619.75,453.21 L616.99,453.21 L614.24,453.21 L611.48,453.21 L608.73,453.22 L605.97,453.22 L603.22,453.22 L600.46,453.22 L597.71,453.22 L594.95,453.22 L592.19,453.23 L589.44,453.23 L586.68,453.23 L583.93,453.23 L581.17,453.23 L578.42,453.24 L575.66,453.24 L572.91,453.24 L570.15,453.25 L567.40,453.25 L564.64,453.26 L561.89,453.26 L559.13,453.27 L556.37,453.27 L553.62,453.28 L550.86,453.28 L548.11,453.29 L545.35,453.30 L542.60,453.31 L539.84,453.32 L537.09,453.33 L534.33,453.34 L531.58,453.35 L528.82,453.36 L526.07,453.38 L523.31,453.39 L520.55,453.41 L517.80,453.42 L515.04,453.44 L512.29,453.46 L509.53,453.48 L506.78,453.51 L504.02,453.53 L501.27,453.56 L498.51,453.59 L495.76,453.63 L493.00,453.66 L490.25,453.70 L487.49,453.74 L484.73,453.79 L481.98,453.84 L479.22,453.89 L476.47,453.95 L473.71,454.01 L470.96,454.08 L468.20,454.15 L465.45,454.23 L462.69,454.32 L459.94,454.42 L457.18,454.52 L454.43,454.63 L451.67,454.75 L448.91,454.88 L446.16,455.02 L443.40,455.17 L440.65,455.33 L437.89,455.51 L435.14,455.71 L432.38,455.92 L429.63,456.14 L426.87,456.39 L424.12,456.65 L421.36,456.94 L418.60,457.25 L415.85,457.59 L413.09,457.95 L410.34,458.35 L407.58,458.77 L404.83,459.23 L402.07,459.73 L399.32,460.27 L396.56,460.84 L393.81,461.46 L391.05,462.11 L388.30,462.82 L385.54,463.57 L382.78,464.37 L380.03,465.23 L377.27,466.15 L374.52,467.12 L371.76,468.16 L369.01,469.26 L366.25,470.43 L363.50,471.68 L360.74,473.00 L357.99,474.40 L355.23,475.88 L352.48,477.45 L349.72,479.11 L346.96,480.86 L344.21,482.71 L341.45,484.65 L338.70,486.70 L335.94,488.86 L333.19,491.13 L330.43,493.50 L327.68,496.00 L324.92,498.60 L322.17,501.33 L319.41,504.18 L316.65,507.15 L313.90,510.25 L311.14,513.47 L308.39,516.82 L305.63,520.29 L302.88,523.89 L300.12,527.61 L297.37,531.45 L294.61,535.42 L291.86,539.50 L289.10,543.70 L286.35,548.01 L283.59,552.42 L280.83,556.94 L278.08,561.55 L275.32,566.26 L272.57,571.04 L269.81,575.90 L267.06,580.84 L264.30,585.83 L261.55,590.87 L258.79,595.96 L256.04,601.08 L253.28,606.22 L250.53,611.38 L247.77,616.54 L245.01,621.71 L242.26,626.85 L239.50,631.98 L236.75,637.07 L233.99,642.12 L231.24,647.12 L228.48,652.06 L225.73,656.93 L222.97,661.73 L220.22,666.45 L217.46,671.08 L214.71,675.62 L211.95,680.06 L209.19,684.39 L206.44,688.62 L203.68,692.73 L200.93,696.73 L198.17,700.61 L195.42,704.37 L192.66,708.00 L189.91,711.52 L187.15,714.91 L184.40,718.18 L181.64,721.33 L178.88,724.36 L176.13,727.26 L173.37,730.05 L170.62,732.72 L167.86,735.28 L165.11,737.72 L162.35,740.05 L159.60,742.27 L156.84,744.39 L154.09,746.41 L151.33,748.33 L148.58,750.15 L145.82,751.88 L143.06,753.52 L140.31,755.08 L137.55,756.55 L134.80,757.94 L132.04,759.26 L129.29,760.51 L126.53,761.68 L123.78,762.79 L121.02,763.83 L118.27,764.81 L115.51,765.74 L112.76,766.61 L110.00,767.43Z" fill="#00FFFF" fill-opacity="0.2" stroke="none"/>
<path d="M110.00,677.10 L111.27,674.51 L112.55,671.86 L113.82,669.17 L115.10,666.44 L116.37,663.66 L117.65,660.85 L118.92,657.99 L120.19,655.09 L121.47,652.15 L122.74,649.17 L124.02,646.17 L125.29,643.13 L126.56,640.06 L127.84,636.96 L129.11,633.83 L130.39,630.68 L131.66,627.51 L132.94,624.33 L134.21,621.12 L135.48,617.91 L136.76,614.68 L138.03,611.44 L139.31,608.20 L140.58,604.96 L141.85,601.72 L143.13,598.48 L144.40,595.25 L145.68,592.03 L146.95,588.82 L148.23,585.62 L149.50,582.44 L150.77,579.29 L152.05,576.15 L153.32,573.05 L154.60,569.97 L155.87,566.92 L157.15,563.90 L158.42,560.92 L159.69,557.97 L160.97,555.07 L162.24,552.20 L163.52,549.38 L164.79,546.60 L166.06,543.87 L167.34,541.18 L168.61,538.55 L169.89,535.96 L171.16,533.42 L172.44,530.94 L173.71,528.50 L174.98,526.12 L176.26,523.79 L177.53,521.52 L178.81,519.30 L180.08,517.13 L181.36,515.02 L182.63,512.96 L183.90,510.95 L185.18,509.00 L186.45,507.09 L187.73,505.25 L189.00,503.45 L190.27,501.71 L191.55,500.01 L192.82,498.37 L194.10,496.78 L195.37,495.23 L196.65,493.74 L197.92,492.29 L199.19,490.88 L200.47,489.52 L201.74,488.21 L203.02,486.94 L204.29,485.71 L205.56,484.52 L206.84,483.37 L208.11,482.27 L209.39,481.20 L210.66,480.16 L211.94,479.17 L213.21,478.21 L214.48,477.28 L215.76,476.39 L217.03,475.53 L218.31,474.70 L219.58,473.90 L220.86,473.13 L222.13,472.39 L223.40,471.67 L224.68,470.98 L225.95,470.32 L227.23,469.68 L228.50,469.07 L229.77,468.48 L231.05,467.91 L232.32,467.37 L233.60,466.84 L234.87,466.34 L236.15,465.85 L237.42,465.39 L238.69,464.94 L239.97,464.51 L241.24,464.09 L242.52,463.69 L243.79,463.31 L245.07,462.94 L246.34,462.59 L247.61,462.25 L248.89,461.92 L250.16,461.60 L251.44,461.30 L252.71,461.01 L253.98,460.73 L255.26,460.46 L256.53,460.21 L257.81,459.96 L259.08,459.72 L260.36,459.49 L261.63,459.27 L262.90,459.06 L264.18,458.86 L265.45,458.66 L266.73,458.47 L268.00,458.29 L269.27,458.11 L270.55,457.94 L271.82,457.78 L273.10,457.62 L274.37,457.46 L275.65,457.31 L276.92,457.17 L278.19,457.03 L279.47,456.90 L280.74,456.77 L282.02,456.65 L283.29,456.52 L284.57,456.41 L285.84,456.30 L287.11,456.19 L288.39,456.08 L289.66,455.98 L290.94,455.89 L292.21,455.79 L293.48,455.70 L294.76,455.61 L296.03,455.53 L297.31,455.45 L298.58,455.37 L299.86,455.29 L301.13,455.22 L302.40,455.15 L303.68,455.08 L304.95,455.01 L306.23,454.95 L307.50,454.89 L308.78,454.83 L310.05,454.77 L311.32,454.72 L312.60,454.66 L313.87,454.61 L315.15,454.56 L316.42,454.51 L317.69,454.47 L318.97,454.42 L320.24,454.38 L321.52,454.34 L322.79,454.30 L324.07,454.26 L325.34,454.22 L326.61,454.19 L327.89,454.15 L329.16,454.12 L330.44,454.09 L331.71,454.05 L332.99,454.02 L334.26,454.00 L335.53,453.97 L336.81,453.94 L338.08,453.91 L339.36,453.89 L340.63,453.87 L341.90,453.84 L343.18,453.82 L344.45,453.80 L345.73,453.78 L347.00,453.76 L348.28,453.74 L349.55,453.72 L350.82,453.70 L352.10,453.68 L353.37,453.66 L354.65,453.65 L355.92,453.63 L357.19,453.62 L358.47,453.60 L359.74,453.59 L361.02,453.57 L362.29,453.56 L363.57,453.55 L364.84,453.54 L364.84,453.59 L363.57,453.61 L362.29,453.63 L361.02,453.65 L359.74,453.68 L358.47,453.70 L357.19,453.73 L355.92,453.76 L354.65,453.79 L353.37,453.82 L352.10,453.85 L350.82,453.88 L349.55,453.92 L348.28,453.95 L347.00,453.99 L345.73,454.03 L344.45,454.08 L343.18,454.12 L341.90,454.17 L340.63,454.22 L339.36,454.27 L338.08,454.33 L336.81,454.38 L335.53,454.44 L334.26,454.51 L332.99,454.58 L331.71,454.65 L330.44,454.72 L329.16,454.80 L327.89,454.88 L326.61,454.97 L325.34,455.06 L324.07,455.16 L322.79,455.26 L321.52,455.36 L320.24,455.47 L318.97,455.59 L317.69,455.71 L316.42,455.84 L315.15,455.98 L313.87,456.12 L312.60,456.27 L311.32,456.43 L310.05,456.59 L308.78,456.76 L307.50,456.95 L306.23,457.14 L304.95,457.34 L303.68,457.55 L302.40,457.77 L301.13,458.01 L299.86,458.25 L298.58,458.51 L297.31,458.78 L296.03,459.06 L294.76,459.36 L293.48,459.67 L292.21,460.00 L290.94,460.34 L289.66,460.70 L288.39,461.08 L287.11,461.47 L285.84,461.88 L284.57,462.30 L283.29,462.74 L282.02,463.20 L280.74,463.68 L279.47,464.17 L278.19,464.68 L276.92,465.21 L275.65,465.76 L274.37,466.32 L273.10,466.91 L271.82,467.52 L270.55,468.15 L269.27,468.80 L268.00,469.47 L266.73,470.17 L265.45,470.89 L264.18,471.63 L262.90,472.39 L261.63,473.18 L260.36,474.00 L259.08,474.84 L257.81,475.70 L256.53,476.59 L255.26,477.51 L253.98,478.46 L252.71,479.43 L251.44,480.43 L250.16,481.45 L248.89,482.51 L247.61,483.60 L246.34,484.71 L245.07,485.86 L243.79,487.03 L242.52,488.23 L241.24,489.47 L239.97,490.74 L238.69,492.04 L237.42,493.37 L236.15,494.73 L234.87,496.13 L233.60,497.55 L232.32,499.02 L231.05,500.51 L229.77,502.04 L228.50,503.60 L227.23,505.20 L225.95,506.83 L224.68,508.50 L223.40,510.20 L222.13,511.93 L220.86,513.70 L219.58,515.50 L218.31,517.34 L217.03,519.22 L215.76,521.13 L214.48,523.07 L213.21,525.05 L211.94,527.07 L210.66,529.12 L209.39,531.20 L208.11,533.32 L206.84,535.48 L205.56,537.67 L204.29,539.89 L203.02,542.15 L201.74,544.44 L200.47,546.76 L199.19,549.12 L197.92,551.50 L196.65,553.93 L195.37,556.38 L194.10,558.86 L192.82,561.37 L191.55,563.92 L190.27,566.49 L189.00,569.09 L187.73,571.71 L186.45,574.37 L185.18,577.05 L183.90,579.75 L182.63,582.48 L181.36,585.24 L180.08,588.01 L178.81,590.81 L177.53,593.62 L176.26,596.46 L174.98,599.31 L173.71,602.18 L172.44,605.06 L171.16,607.96 L169.89,610.87 L168.61,613.79 L167.34,616.72 L166.06,619.66 L164.79,622.61 L163.52,625.56 L162.24,628.51 L160.97,631.47 L159.69,634.42 L158.42,637.38 L157.15,640.33 L155.87,643.28 L154.60,646.22 L153.32,649.15 L152.05,652.08 L150.77,654.99 L149.50,657.89 L148.23,660.78 L146.95,663.64 L145.68,666.49 L144.40,669.33 L143.13,672.13 L141.85,674.92 L140.58,677.68 L139.31,680.42 L138.03,683.13 L136.76,685.81 L135.48,688.46 L134.21,691.07 L132.94,693.66 L131.66,696.21 L130.39,698.72 L129.11,701.20 L127.84,703.64 L126.56,706.04 L125.29,708.39 L124.02,710.71 L122.74,712.99 L121.47,715.22 L120.19,717.41 L118.92,719.56 L117.65,721.66 L116.37,723.72 L115.10,725.73 L113.82,727.69 L112.55,729.61 L111.27,731.49 L110.00,733.31Z" fill="#FF00FF" fill-opacity="0.2" stroke="none"/>
<path d="M110.00,716.39 L111.42,714.09 L112.84,711.72 L114.27,709.29 L115.69,706.79 L117.11,704.23 L118.53,701.61 L119.96,698.92 L121.38,696.17 L122.80,693.36 L124.22,690.49 L125.65,687.55 L127.07,684.56 L128.49,681.51 L129.91,678.41 L131.33,675.25 L132.76,672.03 L134.18,668.77 L135.60,665.46 L137.02,662.10 L138.45,658.70 L139.87,655.26 L141.29,651.78 L142.71,648.26 L144.14,644.71 L145.56,641.14 L146.98,637.54 L148.40,633.91 L149.82,630.27 L151.25,626.62 L152.67,622.95 L154.09,619.28 L155.51,615.60 L156.94,611.92 L158.36,608.25 L159.78,604.59 L161.20,600.93 L162.63,597.29 L164.05,593.68 L165.47,590.08 L166.89,586.51 L168.32,582.96 L169.74,579.45 L171.16,575.98 L172.58,572.54 L174.00,569.14 L175.43,565.79 L176.85,562.49 L178.27,559.23 L179.69,556.02 L181.12,552.87 L182.54,549.77 L183.96,546.73 L185.38,543.75 L186.81,540.82 L188.23,537.96 L189.65,535.15 L191.07,532.41 L192.49,529.73 L193.92,527.12 L195.34,524.57 L196.76,522.08 L198.18,519.66 L199.61,517.30 L201.03,515.00 L202.45,512.77 L203.87,510.60 L205.30,508.49 L206.72,506.45 L208.14,504.47 L209.56,502.54 L210.98,500.68 L212.41,498.88 L213.83,497.13 L215.25,495.44 L216.67,493.80 L218.10,492.22 L219.52,490.70 L220.94,489.22 L222.36,487.80 L223.79,486.43 L225.21,485.10 L226.63,483.82 L228.05,482.59 L229.47,481.41 L230.90,480.26 L232.32,479.16 L233.74,478.10 L235.16,477.08 L236.59,476.10 L238.01,475.16 L239.43,474.25 L240.85,473.37 L242.28,472.54 L243.70,471.73 L245.12,470.96 L246.54,470.21 L247.97,469.50 L249.39,468.81 L250.81,468.15 L252.23,467.52 L253.65,466.91 L255.08,466.33 L256.50,465.77 L257.92,465.24 L259.34,464.73 L260.77,464.23 L262.19,463.76 L263.61,463.31 L265.03,462.87 L266.46,462.46 L267.88,462.06 L269.30,461.68 L270.72,461.31 L272.14,460.96 L273.57,460.63 L274.99,460.31 L276.41,460.00 L277.83,459.70 L279.26,459.42 L280.68,459.15 L282.10,458.89 L283.52,458.65 L284.95,458.41 L286.37,458.18 L287.79,457.97 L289.21,457.76 L290.63,457.56 L292.06,457.37 L293.48,457.19 L294.90,457.01 L296.32,456.85 L297.75,456.69 L299.17,456.53 L300.59,456.39 L302.01,456.25 L303.44,456.11 L304.86,455.99 L306.28,455.86 L307.70,455.75 L309.12,455.64 L310.55,455.53 L311.97,455.43 L313.39,455.33 L314.81,455.24 L316.24,455.15 L317.66,455.06 L319.08,454.98 L320.50,454.90 L321.93,454.83 L323.35,454.75 L324.77,454.69 L326.19,454.62 L327.61,454.56 L329.04,454.50 L330.46,454.44 L331.88,454.39 L333.30,454.33 L334.73,454.28 L336.15,454.24 L337.57,454.19 L338.99,454.15 L340.42,454.11 L341.84,454.07 L343.26,454.03 L344.68,453.99 L346.11,453.96 L347.53,453.92 L348.95,453.89 L350.37,453.86 L351.79,453.83 L353.22,453.80 L354.64,453.78 L356.06,453.75 L357.48,453.73 L358.91,453.70 L360.33,453.68 L361.75,453.66 L363.17,453.64 L364.60,453.62 L366.02,453.60 L367.44,453.58 L368.86,453.57 L370.28,453.55 L371.71,453.54 L373.13,453.52 L374.55,453.51 L375.97,453.49 L377.40,453.48 L378.82,453.47 L380.24,453.46 L381.66,453.44 L383.09,453.43 L384.51,453.42 L385.93,453.41 L387.35,453.40 L388.77,453.39 L390.20,453.39 L391.62,453.38 L393.04,453.37 L394.46,453.36 L394.46,453.99 L393.04,454.02 L391.62,454.06 L390.20,454.10 L388.77,454.14 L387.35,454.18 L385.93,454.23 L384.51,454.28 L383.09,454.32 L381.66,454.38 L380.24,454.43 L378.82,454.49 L377.40,454.54 L375.97,454.60 L374.55,454.67 L373.13,454.73 L371.71,454.80 L370.28,454.88 L368.86,454.95 L367.44,455.03 L366.02,455.12 L364.60,455.20 L363.17,455.29 L361.75,455.39 L360.33,455.49 L358.91,455.59 L357.48,455.70 L356.06,455.81 L354.64,455.93 L353.22,456.05 L351.79,456.18 L350.37,456.32 L348.95,456.46 L347.53,456.61 L346.11,456.76 L344.68,456.92 L343.26,457.09 L341.84,457.26 L340.42,457.45 L338.99,457.64 L337.57,457.84 L336.15,458.05 L334.73,458.26 L333.30,458.49 L331.88,458.73 L330.46,458.98 L329.04,459.24 L327.61,459.51 L326.19,459.79 L324.77,460.08 L323.35,460.39 L321.93,460.71 L320.50,461.04 L319.08,461.39 L317.66,461.76 L316.24,462.14 L314.81,462.53 L313.39,462.94 L311.97,463.38 L310.55,463.82 L309.12,464.29 L307.70,464.78 L306.28,465.29 L304.86,465.82 L303.44,466.37 L302.01,466.95 L300.59,467.55 L299.17,468.17 L297.75,468.82 L296.32,469.50 L294.90,470.20 L293.48,470.94 L292.06,471.70 L290.63,472.50 L289.21,473.32 L287.79,474.18 L286.37,475.06 L284.95,475.98 L283.52,476.94 L282.10,477.92 L280.68,478.94 L279.26,480.00 L277.83,481.09 L276.41,482.22 L274.99,483.39 L273.57,484.60 L272.14,485.84 L270.72,487.13 L269.30,488.46 L267.88,489.83 L266.46,491.25 L265.03,492.71 L263.61,494.21 L262.19,495.76 L260.77,497.35 L259.34,499.00 L257.92,500.68 L256.50,502.42 L255.08,504.21 L253.65,506.04 L252.23,507.93 L250.81,509.86 L249.39,511.85 L247.97,513.89 L246.54,515.98 L245.12,518.11 L243.70,520.30 L242.28,522.55 L240.85,524.84 L239.43,527.18 L238.01,529.58 L236.59,532.02 L235.16,534.52 L233.74,537.07 L232.32,539.66 L230.90,542.31 L229.47,545.00 L228.05,547.74 L226.63,550.52 L225.21,553.35 L223.79,556.23 L222.36,559.14 L220.94,562.10 L219.52,565.09 L218.10,568.13 L216.67,571.20 L215.25,574.30 L213.83,577.44 L212.41,580.61 L210.98,583.81 L209.56,587.03 L208.14,590.28 L206.72,593.54 L205.30,596.83 L203.87,600.14 L202.45,603.46 L201.03,606.79 L199.61,610.13 L198.18,613.48 L196.76,616.83 L195.34,620.19 L193.92,623.54 L192.49,626.89 L191.07,630.23 L189.65,633.57 L188.23,636.89 L186.81,640.20 L185.38,643.49 L183.96,646.76 L182.54,650.01 L181.12,653.24 L179.69,656.44 L178.27,659.61 L176.85,662.75 L175.43,665.86 L174.00,668.93 L172.58,671.97 L171.16,674.96 L169.74,677.92 L168.32,680.84 L166.89,683.71 L165.47,686.53 L164.05,689.32 L162.63,692.05 L161.20,694.73 L159.78,697.37 L158.36,699.95 L156.94,702.49 L155.51,704.97 L154.09,707.40 L152.67,709.78 L151.25,712.10 L149.82,714.37 L148.40,716.59 L146.98,718.75 L145.56,720.86 L144.14,722.92 L142.71,724.92 L141.29,726.87 L139.87,728.77 L138.45,730.62 L137.02,732.41 L135.60,734.15 L134.18,735.84 L132.76,737.49 L131.33,739.08 L129.91,740.62 L128.49,742.12 L127.07,743.57 L125.65,744.97 L124.22,746.32 L122.80,747.64 L121.38,748.90 L119.96,750.13 L118.53,751.31 L117.11,752.45 L115.69,753.56 L114.27,754.62 L112.84,755.64 L111.42,756.63 L110.00,757.58Z" fill="#A52A2A" fill-opacity="0.2" stroke="none"/>
<path d="M110.00,762.81 L112.76,761.67 L115.51,760.45 L118.27,759.16 L121.02,757.79 L123.78,756.33 L126.53,754.79 L129.29,753.16 L132.04,751.44 L134.80,749.62 L137.55,747.70 L140.31,745.67 L143.06,743.54 L145.82,741.29 L148.58,738.93 L151.33,736.46 L154.09,733.86 L156.84,731.14 L159.60,728.30 L162.35,725.32 L165.11,722.22 L167.86,718.99 L170.62,715.63 L173.37,712.14 L176.13,708.51 L178.88,704.76 L181.64,700.88 L184.40,696.87 L187.15,692.74 L189.91,688.48 L192.66,684.11 L195.42,679.63 L198.17,675.04 L200.93,670.34 L203.68,665.56 L206.44,660.68 L209.19,655.73 L211.95,650.70 L214.71,645.61 L217.46,640.46 L220.22,635.27 L222.97,630.05 L225.73,624.80 L228.48,619.54 L231.24,614.27 L233.99,609.01 L236.75,603.77 L239.50,598.55 L242.26,593.37 L245.01,588.24 L247.77,583.16 L250.53,578.15 L253.28,573.21 L256.04,568.35 L258.79,563.58 L261.55,558.91 L264.30,554.34 L267.06,549.87 L269.81,545.52 L272.57,541.28 L275.32,537.16 L278.08,533.16 L280.83,529.29 L283.59,525.54 L286.35,521.92 L289.10,518.43 L291.86,515.07 L294.61,511.84 L297.37,508.73 L300.12,505.74 L302.88,502.89 L305.63,500.15 L308.39,497.53 L311.14,495.03 L313.90,492.64 L316.65,490.37 L319.41,488.20 L322.17,486.14 L324.92,484.19 L327.68,482.33 L330.43,480.56 L333.19,478.89 L335.94,477.30 L338.70,475.80 L341.45,474.38 L344.21,473.04 L346.96,471.78 L349.72,470.58 L352.48,469.45 L355.23,468.39 L357.99,467.39 L360.74,466.45 L363.50,465.57 L366.25,464.73 L369.01,463.95 L371.76,463.22 L374.52,462.53 L377.27,461.88 L380.03,461.28 L382.78,460.71 L385.54,460.18 L388.30,459.68 L391.05,459.22 L393.81,458.78 L396.56,458.38 L399.32,458.00 L402.07,457.64 L404.83,457.31 L407.58,457.01 L410.34,456.72 L413.09,456.45 L415.85,456.21 L418.60,455.98 L421.36,455.76 L424.12,455.56 L426.87,455.38 L429.63,455.21 L432.38,455.06 L435.14,454.91 L437.89,454.78 L440.65,454.66 L443.40,454.55 L446.16,454.44 L448.91,454.34 L451.67,454.26 L454.43,454.17 L457.18,454.10 L459.94,454.03 L462.69,453.96 L465.45,453.90 L468.20,453.85 L470.96,453.80 L473.71,453.75 L476.47,453.71 L479.22,453.67 L481.98,453.63 L484.73,453.60 L487.49,453.57 L490.25,453.54 L493.00,453.51 L495.76,453.49 L498.51,453.47 L501.27,453.45 L504.02,453.43 L506.78,453.41 L509.53,453.39 L512.29,453.38 L515.04,453.36 L517.80,453.35 L520.55,453.34 L523.31,453.33 L526.07,453.32 L528.82,453.31 L531.58,453.30 L534.33,453.29 L537.09,453.29 L539.84,453.28 L542.60,453.27 L545.35,453.27 L548.11,453.26 L550.86,453.26 L553.62,453.25 L556.37,453.25 L559.13,453.24 L561.89,453.24 L564.64,453.24 L567.40,453.24 L570.15,453.23 L572.91,453.23 L575.66,453.23 L578.42,453.23 L581.17,453.22 L583.93,453.22 L586.68,453.22 L589.44,453.22 L592.19,453.22 L594.95,453.22 L597.71,453.21 L600.46,453.21 L603.22,453.21 L605.97,453.21 L608.73,453.21 L611.48,453.21 L614.24,453.21 L616.99,453.21 L619.75,453.21 L622.50,453.21 L625.26,453.21 L628.02,453.21 L630.77,453.21 L633.53,453.21 L636.28,453.20 L639.04,453.20 L641.79,453.20 L644.55,453.20 L647.30,453.20 L650.06,453.20 L652.81,453.20 L655.57,453.20 L658.32,453.20 L661.08,453.20" fill="none" stroke="#00FFFF" stroke-width="2.3" stroke-linecap="round" stroke-linejoin="round"/>
<path d="M110.00,710.30 L111.27,708.11 L112.55,705.87 L113.82,703.58 L115.10,701.24 L116.37,698.84 L117.65,696.40 L118.92,693.91 L120.19,691.38 L121.47,688.79 L122.74,686.16 L124.02,683.48 L125.29,680.75 L126.56,677.99 L127.84,675.18 L129.11,672.32 L130.39,669.43 L131.66,666.50 L132.94,663.53 L134.21,660.53 L135.48,657.49 L136.76,654.42 L138.03,651.33 L139.31,648.20 L140.58,645.05 L141.85,641.88 L143.13,638.69 L144.40,635.48 L145.68,632.25 L146.95,629.01 L148.23,625.76 L149.50,622.51 L150.77,619.24 L152.05,615.98 L153.32,612.71 L154.60,609.45 L155.87,606.19 L157.15,602.94 L158.42,599.70 L159.69,596.47 L160.97,593.26 L162.24,590.06 L163.52,586.89 L164.79,583.74 L166.06,580.61 L167.34,577.51 L168.61,574.44 L169.89,571.41 L171.16,568.40 L172.44,565.43 L173.71,562.50 L174.98,559.60 L176.26,556.74 L177.53,553.93 L178.81,551.16 L180.08,548.43 L181.36,545.75 L182.63,543.11 L183.90,540.52 L185.18,537.98 L186.45,535.49 L187.73,533.04 L189.00,530.65 L190.27,528.30 L191.55,526.01 L192.82,523.76 L194.10,521.57 L195.37,519.43 L196.65,517.33 L197.92,515.29 L199.19,513.30 L200.47,511.35 L201.74,509.46 L203.02,507.62 L204.29,505.82 L205.56,504.07 L206.84,502.37 L208.11,500.72 L209.39,499.11 L210.66,497.55 L211.94,496.03 L213.21,494.56 L214.48,493.13 L215.76,491.75 L217.03,490.40 L218.31,489.10 L219.58,487.84 L220.86,486.61 L222.13,485.43 L223.40,484.28 L224.68,483.17 L225.95,482.10 L227.23,481.06 L228.50,480.05 L229.77,479.08 L231.05,478.14 L232.32,477.23 L233.60,476.35 L234.87,475.50 L236.15,474.68 L237.42,473.89 L238.69,473.12 L239.97,472.39 L241.24,471.67 L242.52,470.99 L243.79,470.32 L245.07,469.68 L246.34,469.06 L247.61,468.47 L248.89,467.90 L250.16,467.34 L251.44,466.81 L252.71,466.29 L253.98,465.80 L255.26,465.32 L256.53,464.86 L257.81,464.42 L259.08,463.99 L260.36,463.58 L261.63,463.18 L262.90,462.80 L264.18,462.43 L265.45,462.08 L266.73,461.74 L268.00,461.41 L269.27,461.10 L270.55,460.79 L271.82,460.50 L273.10,460.22 L274.37,459.95 L275.65,459.69 L276.92,459.44 L278.19,459.20 L279.47,458.97 L280.74,458.74 L282.02,458.53 L283.29,458.32 L284.57,458.12 L285.84,457.93 L287.11,457.75 L288.39,457.57 L289.66,457.40 L290.94,457.24 L292.21,457.08 L293.48,456.93 L294.76,456.78 L296.03,456.65 L297.31,456.51 L298.58,456.38 L299.86,456.26 L301.13,456.14 L302.40,456.02 L303.68,455.91 L304.95,455.81 L306.23,455.71 L307.50,455.61 L308.78,455.51 L310.05,455.42 L311.32,455.34 L312.60,455.25 L313.87,455.17 L315.15,455.10 L316.42,455.02 L317.69,454.95 L318.97,454.88 L320.24,454.82 L321.52,454.75 L322.79,454.69 L324.07,454.63 L325.34,454.58 L326.61,454.52 L327.89,454.47 L329.16,454.42 L330.44,454.37 L331.71,454.33 L332.99,454.28 L334.26,454.24 L335.53,454.20 L336.81,454.16 L338.08,454.12 L339.36,454.09 L340.63,454.05 L341.90,454.02 L343.18,453.99 L344.45,453.96 L345.73,453.93 L347.00,453.90 L348.28,453.87 L349.55,453.84 L350.82,453.82 L352.10,453.79 L353.37,453.77 L354.65,453.75 L355.92,453.73 L357.19,453.71 L358.47,453.69 L359.74,453.67 L361.02,453.65 L362.29,453.63 L363.57,453.61 L364.84,453.60" fill="none" stroke="#FF00FF" stroke-width="2.3" stroke-linecap="round" stroke-linejoin="round"/>
<path d="M110.00,742.41 L111.42,740.96 L112.84,739.47 L114.27,737.92 L115.69,736.33 L117.11,734.68 L118.53,732.97 L119.96,731.22 L121.38,729.40 L122.80,727.53 L124.22,725.60 L125.65,723.61 L127.07,721.56 L128.49,719.46 L129.91,717.29 L131.33,715.06 L132.76,712.77 L134.18,710.42 L135.60,708.01 L137.02,705.54 L138.45,703.01 L139.87,700.42 L141.29,697.76 L142.71,695.05 L144.14,692.28 L145.56,689.44 L146.98,686.56 L148.40,683.61 L149.82,680.61 L151.25,677.56 L152.67,674.46 L154.09,671.30 L155.51,668.10 L156.94,664.86 L158.36,661.56 L159.78,658.23 L161.20,654.86 L162.63,651.46 L164.05,648.02 L165.47,644.55 L166.89,641.05 L168.32,637.53 L169.74,633.99 L171.16,630.43 L172.58,626.85 L174.00,623.27 L175.43,619.68 L176.85,616.08 L178.27,612.49 L179.69,608.90 L181.12,605.31 L182.54,601.74 L183.96,598.17 L185.38,594.63 L186.81,591.11 L188.23,587.61 L189.65,584.13 L191.07,580.69 L192.49,577.28 L193.92,573.90 L195.34,570.57 L196.76,567.27 L198.18,564.02 L199.61,560.81 L201.03,557.65 L202.45,554.54 L203.87,551.48 L205.30,548.47 L206.72,545.52 L208.14,542.63 L209.56,539.79 L210.98,537.01 L212.41,534.29 L213.83,531.63 L215.25,529.02 L216.67,526.48 L218.10,524.00 L219.52,521.58 L220.94,519.23 L222.36,516.93 L223.79,514.70 L225.21,512.52 L226.63,510.41 L228.05,508.35 L229.47,506.36 L230.90,504.42 L232.32,502.54 L233.74,500.72 L235.16,498.95 L236.59,497.24 L238.01,495.58 L239.43,493.98 L240.85,492.43 L242.28,490.93 L243.70,489.48 L245.12,488.08 L246.54,486.72 L247.97,485.42 L249.39,484.16 L250.81,482.94 L252.23,481.77 L253.65,480.64 L255.08,479.55 L256.50,478.49 L257.92,477.48 L259.34,476.51 L260.77,475.57 L262.19,474.66 L263.61,473.80 L265.03,472.96 L266.46,472.15 L267.88,471.38 L269.30,470.64 L270.72,469.92 L272.14,469.23 L273.57,468.57 L274.99,467.94 L276.41,467.33 L277.83,466.74 L279.26,466.18 L280.68,465.64 L282.10,465.12 L283.52,464.62 L284.95,464.15 L286.37,463.69 L287.79,463.25 L289.21,462.83 L290.63,462.42 L292.06,462.03 L293.48,461.66 L294.90,461.31 L296.32,460.96 L297.75,460.63 L299.17,460.32 L300.59,460.02 L302.01,459.73 L303.44,459.45 L304.86,459.19 L306.28,458.93 L307.70,458.69 L309.12,458.46 L310.55,458.23 L311.97,458.02 L313.39,457.81 L314.81,457.62 L316.24,457.43 L317.66,457.25 L319.08,457.07 L320.50,456.91 L321.93,456.75 L323.35,456.60 L324.77,456.45 L326.19,456.31 L327.61,456.18 L329.04,456.05 L330.46,455.93 L331.88,455.81 L333.30,455.70 L334.73,455.59 L336.15,455.49 L337.57,455.39 L338.99,455.30 L340.42,455.21 L341.84,455.12 L343.26,455.04 L344.68,454.96 L346.11,454.88 L347.53,454.81 L348.95,454.74 L350.37,454.68 L351.79,454.61 L353.22,454.55 L354.64,454.49 L356.06,454.44 L357.48,454.38 L358.91,454.33 L360.33,454.28 L361.75,454.24 L363.17,454.19 L364.60,454.15 L366.02,454.11 L367.44,454.07 L368.86,454.03 L370.28,454.00 L371.71,453.96 L373.13,453.93 L374.55,453.90 L375.97,453.87 L377.40,453.84 L378.82,453.81 L380.24,453.78 L381.66,453.76 L383.09,453.74 L384.51,453.71 L385.93,453.69 L387.35,453.67 L388.77,453.65 L390.20,453.63 L391.62,453.61 L393.04,453.59 L394.46,453.58" fill="none" stroke="#A52A2A" stroke-width="2.3" stroke-linecap="round" stroke-linejoin="round"/>
<rect x="87.90" y="440.20" width="596.60" height="351.30" fill="none" stroke="#222222" stroke-width="1.5"/>
<line x1="110.00" y1="791.50" x2="110.00" y2="802.70" stroke="#222222" stroke-width="1.5"/>
<text transform="translate(110.00,829.50) scale(1,1.045)" font-size="26.5" text-anchor="middle">0</text>
<line x1="202.00" y1="791.50" x2="202.00" y2="802.70" stroke="#222222" stroke-width="1.5"/>
<text transform="translate(202.00,829.50) scale(1,1.045)" font-size="26.5" text-anchor="middle">5</text>
<line x1="294.00" y1="791.50" x2="294.00" y2="802.70" stroke="#222222" stroke-width="1.5"/>
<text transform="translate(294.00,829.50) scale(1,1.045)" font-size="26.5" text-anchor="middle">10</text>
<line x1="386.00" y1="791.50" x2="386.00" y2="802.70" stroke="#222222" stroke-width="1.5"/>
<text transform="translate(386.00,829.50) scale(1,1.045)" font-size="26.5" text-anchor="middle">15</text>
<line x1="478.00" y1="791.50" x2="478.00" y2="802.70" stroke="#222222" stroke-width="1.5"/>
<text transform="translate(478.00,829.50) scale(1,1.045)" font-size="26.5" text-anchor="middle">20</text>
<line x1="570.00" y1="791.50" x2="570.00" y2="802.70" stroke="#222222" stroke-width="1.5"/>
<text transform="translate(570.00,829.50) scale(1,1.045)" font-size="26.5" text-anchor="middle">25</text>
<line x1="662.00" y1="791.50" x2="662.00" y2="802.70" stroke="#222222" stroke-width="1.5"/>
<text transform="translate(662.00,829.50) scale(1,1.045)" font-size="26.5" text-anchor="middle">30</text>
<line x1="76.70" y1="778.50" x2="87.90" y2="778.50" stroke="#222222" stroke-width="1.5"/>
<text transform="translate(62.20,777.50) rotate(-90) scale(1,1.045)" font-size="26.5" text-anchor="middle">0.0</text>
<line x1="76.70" y1="713.44" x2="87.90" y2="713.44" stroke="#222222" stroke-width="1.5"/>
<text transform="translate(62.20,712.44) rotate(-90) scale(1,1.045)" font-size="26.5" text-anchor="middle">0.2</text>
<line x1="76.70" y1="648.38" x2="87.90" y2="648.38" stroke="#222222" stroke-width="1.5"/>
<text transform="translate(62.20,647.38) rotate(-90) scale(1,1.045)" font-size="26.5" text-anchor="middle">0.4</text>
<line x1="76.70" y1="583.32" x2="87.90" y2="583.32" stroke="#222222" stroke-width="1.5"/>
<text transform="translate(62.20,582.32) rotate(-90) scale(1,1.045)" font-size="26.5" text-anchor="middle">0.6</text>
<line x1="76.70" y1="518.26" x2="87.90" y2="518.26" stroke="#222222" stroke-width="1.5"/>
<text transform="translate(62.20,517.26) rotate(-90) scale(1,1.045)" font-size="26.5" text-anchor="middle">0.8</text>
<line x1="76.70" y1="453.20" x2="87.90" y2="453.20" stroke="#222222" stroke-width="1.5"/>
<text transform="translate(62.20,452.20) rotate(-90) scale(1,1.045)" font-size="26.5" text-anchor="middle">1.0</text>
<text x="102.90" y="485.20" font-size="26.5">b</text>
<circle cx="336.60" cy="615.30" r="6.1" fill="#00FFFF"/>
<text transform="translate(360.60,624.80) scale(1,1)" font-size="26.5">Asia−Pacific</text>
<circle cx="336.60" cy="646.80" r="6.1" fill="#FF00FF"/>
<text transform="translate(360.60,656.30) scale(1,1)" font-size="26.5">Caribbean/Atlantic</text>
<circle cx="336.60" cy="678.30" r="6.1" fill="#A52A2A"/>
<text transform="translate(360.60,687.80) scale(1,1)" font-size="26.5">Indian Ocean/Middle−East</text>
<text id="xl" x="376.30" y="866.00" font-size="26.5" text-anchor="middle">Degree Heating Weeks (<tspan font-size="18.5" dy="-14.5">o</tspan><tspan dy="14.5">C−weeks)</tspan></text>
<text id="yl" transform="translate(19.70,396.40) rotate(-90)" font-size="26.5" text-anchor="middle">Probability of Bleaching (&gt;10% corals affected)</text>
</svg></body></html>
